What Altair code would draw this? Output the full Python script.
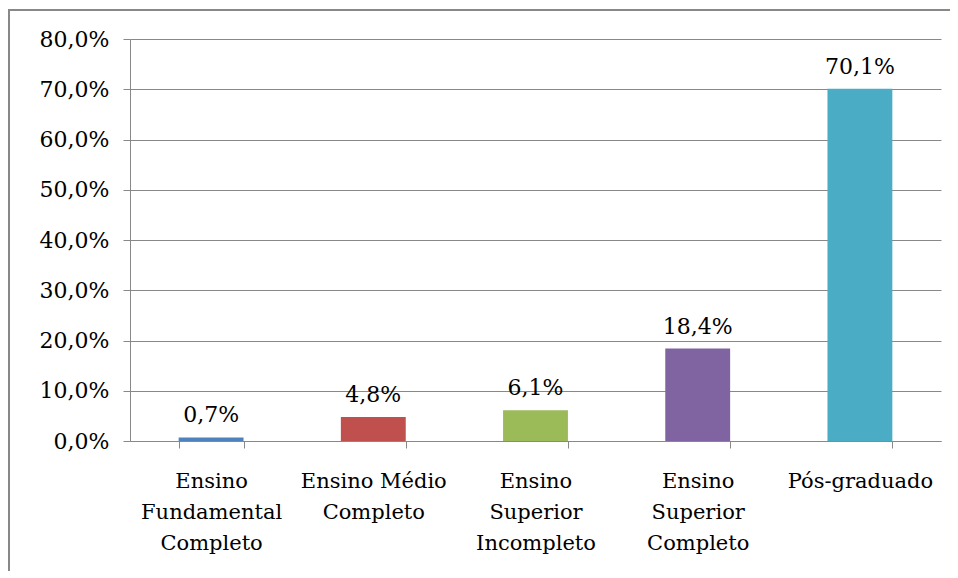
import altair as alt
import pandas as pd

categories = [
    "Ensino\nFundamental\nCompleto",
    "Ensino Médio\nCompleto",
    "Ensino\nSuperior\nIncompleto",
    "Ensino\nSuperior\nCompleto",
    "Pós-graduado",
]
values = [0.7, 4.8, 6.1, 18.4, 70.1]
colors = ["#4F81BD", "#C0504D", "#9BBB59", "#8064A2", "#4BACC6"]
y_ticks = [0, 10, 20, 30, 40, 50, 60, 70, 80]

df = pd.DataFrame({"cat": categories, "val": values})

FONT = "DejaVu Serif"
GREY = "#888888"

x_enc = alt.X(
    "cat:N",
    sort=categories,
    title=None,
    scale=alt.Scale(paddingInner=0.6, paddingOuter=0.3),
    axis=alt.Axis(
        labelAngle=0,
        labelExpr="split(datum.label, '\\n')",
        labelFont=FONT,
        labelFontSize=21,
        labelColor="black",
        labelLineHeight=31,
        labelPadding=22,
        labelBaseline="top",
        domainColor=GREY,
        tickColor=GREY,
        tickSize=7,
        tickBand="extent",
        grid=False,
    ),
)

y_enc = alt.Y(
    "val:Q",
    title=None,
    scale=alt.Scale(domain=[0, 80], nice=False),
    axis=alt.Axis(
        values=y_ticks,
        labelExpr="replace(format(datum.value, '.1f'), '.', ',') + '%'",
        labelFont=FONT,
        labelFontSize=22,
        labelColor="black",
        labelPadding=14,
        domainColor=GREY,
        tickColor=GREY,
        tickSize=7,
        gridColor=GREY,
        gridOpacity=1,
        gridWidth=1,
    ),
)

base = alt.Chart(df)

bars = base.mark_bar().encode(
    x=x_enc,
    y=y_enc,
    color=alt.Color("cat:N", sort=categories,
                    scale=alt.Scale(domain=categories, range=colors), legend=None),
)

labels = base.transform_calculate(
    lab="replace(format(datum.val, '.1f'), '.', ',') + '%'"
).mark_text(
    font=FONT, fontSize=22, color="black", baseline="alphabetic", dy=-15
).encode(
    x=alt.X("cat:N", sort=categories),
    y=alt.Y("val:Q"),
    text="lab:N",
)

frame_src = alt.Chart(pd.DataFrame({"a": [0]}))
frame_top = frame_src.mark_rect(color=GREY, clip=False).encode(
    x=alt.value(-122), x2=alt.value(820), y=alt.value(-30), y2=alt.value(-28)
)
frame_left = frame_src.mark_rect(color=GREY, clip=False).encode(
    x=alt.value(-122), x2=alt.value(-120), y=alt.value(-30), y2=alt.value(532)
)

chart = alt.layer(bars, labels, frame_top, frame_left).properties(
    width=811,
    height=402,
    autosize=alt.AutoSizeParams(type="none"),
    padding={"left": 122, "top": 31, "right": 9, "bottom": 130},
).configure_view(stroke=None)

chart.save("out.html", embed_options={"renderer": "svg", "actions": False})
